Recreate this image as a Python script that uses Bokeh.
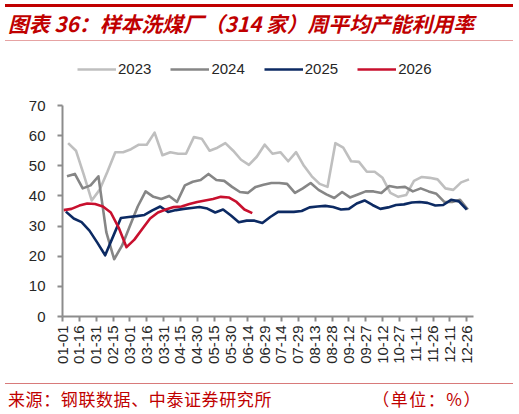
from datetime import date
from bokeh.plotting import figure
from bokeh.layouts import column
from bokeh.models import Range1d, FixedTicker, Legend, LegendItem, Div
from bokeh.embed import file_html
from bokeh.resources import INLINE

# ---------------- data ----------------
title_text = "图表 36：样本洗煤厂（314 家）周平均产能利用率"
source_text = "来源：钢联数据、中泰证券研究所"
unit_text = "（单位：%）"

tick_labels = ["01-01", "01-16", "01-31", "02-15", "03-01", "03-16", "03-31", "04-15",
               "04-30", "05-15", "05-30", "06-14", "06-29", "07-14", "07-29", "08-13",
               "08-28", "09-12", "09-27", "10-12", "10-27", "11-11", "11-26", "12-11", "12-26"]
y_ticks = [0, 10, 20, 30, 40, 50, 60, 70]

series_names = ["2023", "2024", "2025", "2026"]
# first weekly observation (month, day) of each year
series_start = {"2023": (1, 6), "2024": (1, 5), "2025": (1, 4), "2026": (1, 2)}

v2023 = [57.5, 55.0, 47.0, 38.5, 42.0, 48.0, 54.5, 54.5, 55.5, 57.0, 57.0, 61.0, 53.5,
         54.5, 54.0, 54.0, 59.5, 59.0, 55.0, 56.0, 57.5, 55.0, 52.0, 50.3, 53.0, 57.0,
         54.0, 54.5, 51.5, 54.5, 50.0, 46.5, 44.0, 43.0, 57.5, 56.0, 51.5, 51.3, 48.0,
         48.0, 46.0, 41.0, 39.7, 40.3, 45.0, 46.3, 46.0, 45.5, 42.5, 42.0, 44.5, 45.5]
v2024 = [46.5, 47.3, 42.5, 43.5, 46.5, 28.0, 19.0, 23.5, 30.0, 36.5, 41.5, 39.7, 39.0,
         40.0, 38.0, 43.5, 44.7, 45.3, 47.3, 45.3, 45.0, 43.0, 41.3, 41.0, 43.0, 43.7,
         44.3, 44.3, 44.0, 41.0, 42.5, 44.3, 42.0, 40.5, 39.3, 41.3, 39.5, 40.5, 41.5,
         41.5, 41.0, 43.3, 42.8, 43.0, 41.5, 42.5, 41.5, 40.7, 38.0, 38.0, 38.7, 35.5]
v2025 = [34.8, 32.5, 31.3, 28.5, 24.5, 20.3, 26.5, 32.7, 33.0, 33.3, 33.7, 35.2, 36.5,
         34.7, 35.3, 35.7, 36.0, 36.3, 35.8, 34.5, 35.5, 33.5, 31.3, 31.8, 31.8, 31.0,
         33.0, 34.7, 34.7, 34.7, 35.0, 36.2, 36.5, 36.7, 36.3, 35.5, 35.7, 37.5, 38.5,
         37.0, 35.7, 36.2, 37.0, 37.2, 37.8, 38.0, 37.7, 36.8, 37.0, 38.7, 38.2, 35.5]
v2026 = [35.3, 35.7, 36.8, 37.5, 37.3, 36.5, 34.5, 29.5, 23.0, 25.5, 29.0, 32.5, 34.5,
         35.5, 36.3, 36.5, 37.3, 38.0, 38.5, 39.0, 39.7, 39.5, 38.0, 35.5, 34.3]
series_values = {"2023": v2023, "2024": v2024, "2025": v2025, "2026": v2026}
series_colors = {"2023": "#BFBFBF", "2024": "#868686", "2025": "#0C2A63", "2026": "#C8102E"}


def doy(m, d):
    # position on a shared Jan-1..Dec-31 axis (leap-year calendar)
    return (date(2024, m, d) - date(2024, 1, 1)).days


tick_pos = [doy(int(s[:2]), int(s[3:])) for s in tick_labels]

W = 518
red = "#C00000"


def rule(h, color):
    return (f'<div style="margin:0 0 0 5px;width:508px;height:{h}px;'
            f'background-color:{color};font-size:0;line-height:0;"></div>')


# ---------------- header ----------------
header = Div(width=W, height=41, margin=0, text=(
    f'<div style="margin:0;padding-top:4px;">'
    + rule(3, red) +
    f'<div style="margin:0 0 0 5px;height:33px;padding-left:3px;line-height:33px;'
    f'font-family:\'Noto Sans CJK SC\';font-size:20.8px;font-weight:bold;font-style:italic;'
    f'color:{red};white-space:nowrap;">{title_text}</div>'
    + rule(1, "#E6A3A3") + '</div>'))

# ---------------- figure ----------------
# frame extends above the 70 line so that the legend sits inside it
Y_TOP = 70 + (105 - 46) / (211 / 70)
p = figure(width=W, height=342, output_backend="svg", toolbar_location=None,
           x_range=Range1d(0, 366), y_range=Range1d(0, Y_TOP),
           min_border_left=62, min_border_right=45, min_border_top=5, min_border_bottom=67)
p.outline_line_color = None
p.background_fill_color = "white"
p.border_fill_color = "white"
p.xgrid.visible = False
p.ygrid.visible = False

axis_color = "#8C8C8C"
p.yaxis.ticker = FixedTicker(ticks=y_ticks)
p.yaxis.bounds = (0, 70)
p.xaxis.ticker = FixedTicker(ticks=tick_pos)
p.xaxis.major_label_overrides = {tp: lab for tp, lab in zip(tick_pos, tick_labels)}
p.xaxis.major_label_orientation = 3.14159265 / 2
for ax in (p.xaxis, p.yaxis):
    ax.axis_line_color = axis_color
    ax.axis_line_width = 2
    ax.major_tick_line_color = axis_color
    ax.major_tick_line_width = 2
    ax.major_tick_out = 5
    ax.major_tick_in = 0
    ax.minor_tick_line_color = None
    ax.major_label_text_font = "Liberation Sans"
    ax.major_label_text_font_size = "15px"
    ax.major_label_text_color = "#262626"
p.yaxis.major_label_standoff = 12
p.xaxis.major_label_standoff = 4

renderers = {}
for name in series_names:
    vals = series_values[name]
    m, d = series_start[name]
    x0 = doy(m, d)
    xs = [x0 + 7 * i for i in range(len(vals))]
    renderers[name] = p.line(xs, vals, line_color=series_colors[name], line_width=2.6,
                             line_join="round")

legend = Legend(items=[LegendItem(label=n, renderers=[renderers[n]]) for n in series_names],
                orientation="horizontal", location=(15, 239),
                spacing=19, glyph_width=39, glyph_height=16, label_standoff=2,
                padding=0, margin=0, border_line_alpha=0, background_fill_alpha=0,
                label_text_font="Liberation Sans", label_text_font_size="15px",
                label_text_color="#262626", label_height=16)
p.add_layout(legend, "center")

# ---------------- footer ----------------
footer = Div(width=W, height=31, margin=0, text=(
    rule(1, "#D87A7A") +
    f'<div style="margin:0 0 0 5px;width:508px;height:30px;'
    f'display:flex;justify-content:space-between;align-items:center;'
    f'font-family:\'Noto Sans CJK SC\';color:{red};white-space:nowrap;">'
    f'<span style="padding-left:3px;font-size:17px;letter-spacing:0.6px;">{source_text}</span>'
    f'<span style="padding-right:31px;font-size:17px;letter-spacing:1.5px;">{unit_text}</span></div>'))

layout = column(header, p, footer, spacing=0)
open("out.html", "w").write(file_html(layout, INLINE))
